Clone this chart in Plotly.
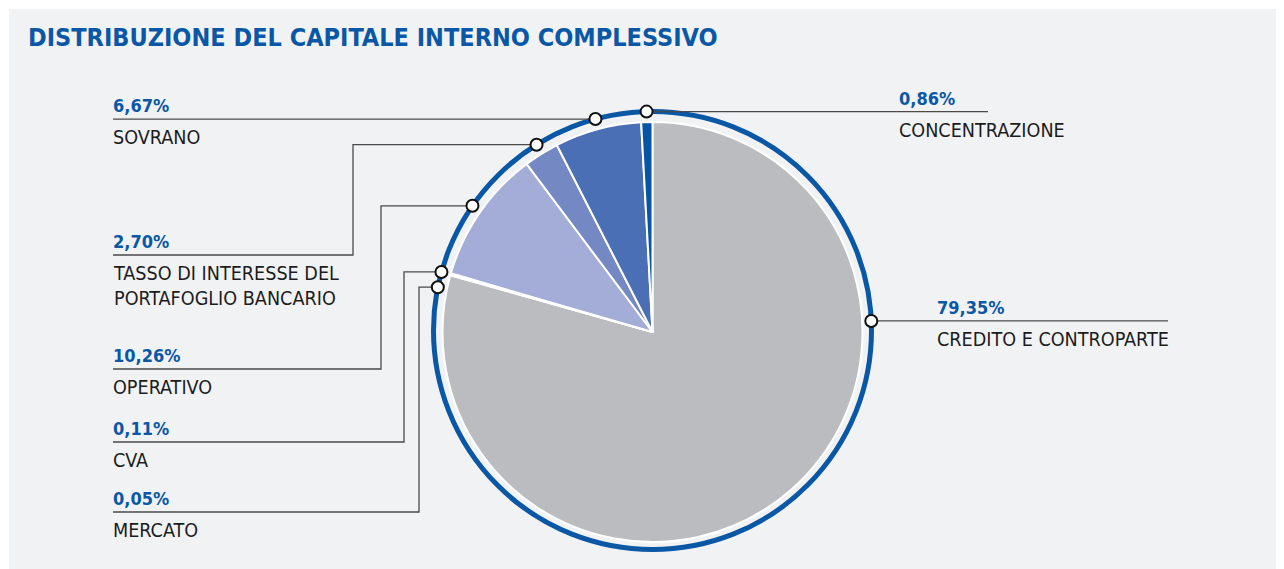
import numpy as np
import plotly.graph_objects as go

# ---------------- data ----------------
categories = [
    "CREDITO E CONTROPARTE",
    "MERCATO",
    "CVA",
    "OPERATIVO",
    "TASSO DI INTERESSE DEL<br>PORTAFOGLIO BANCARIO",
    "SOVRANO",
    "CONCENTRAZIONE",
]
values = [79.35, 0.05, 0.11, 10.26, 2.70, 6.67, 0.86]
title_text = "DISTRIBUZIONE DEL CAPITALE INTERNO COMPLESSIVO"

# ---------------- styles / layout ----------------
slice_colors = ["#bbbcc0", "#e3e6f3", "#cdd3ec", "#a3add8", "#7489c4", "#4a6fb5", "#0656a5"]
W, H = 1284, 569
OFF = 8  # page body margin: axis coordinates equal page pixels
CX, CY, R_PIE = 652.5, 332.0, 210.0
RING_CY, R_RING = 330.5, 219.0
BLUE = "#0a57a6"
TXT = "#1c1c1c"
FONT = "DejaVu Sans Condensed, DejaVu Sans, sans-serif"

# label layout: elbow x (None = straight), label line y (None = dot y), line end x, text x
label_layout = {
    "CREDITO E CONTROPARTE": dict(elbow=None, ly=None, end=1168, tx=937, angle=87.5),
    "MERCATO": dict(elbow=419, ly=512, end=113, tx=113, angle=281.4),
    "CVA": dict(elbow=404, ly=442, end=113, tx=113, angle=285.5),
    "OPERATIVO": dict(elbow=381, ly=369, end=113, tx=113, angle=None),
    "TASSO DI INTERESSE DEL<br>PORTAFOGLIO BANCARIO": dict(elbow=353, ly=255, end=113, tx=113, angle=None),
    "SOVRANO": dict(elbow=None, ly=None, end=113, tx=113, angle=None),
    "CONCENTRAZIONE": dict(elbow=None, ly=None, end=988, tx=899, angle=None),
}

vals = np.array(values, dtype=float)
cum = np.cumsum(vals) / vals.sum() * 360.0
starts = np.concatenate([[0.0], cum[:-1]])
mids = (starts + cum) / 2.0

fig = go.Figure()

shapes = [
    dict(type="rect", xref="x", yref="y", x0=9, x1=W + 20, y0=9, y1=H + 20,
         fillcolor="#f1f2f4", line=dict(width=0), layer="below"),
    dict(type="circle", xref="x", yref="y",
         x0=CX - R_RING, x1=CX + R_RING, y0=RING_CY - R_RING, y1=RING_CY + R_RING,
         line=dict(color="#0a57a6", width=5), fillcolor="rgba(0,0,0,0)", layer="below"),
]

annotations = [
    dict(x=26, y=37, xref="x", yref="y", text="<b>" + title_text + "</b>", showarrow=False,
         xanchor="left", yanchor="middle", font=dict(family=FONT, size=25, color=BLUE)),
]

dot_x, dot_y = [], []
for cat, v, mid in zip(categories, values, mids):
    L = label_layout[cat]
    ang = L["angle"] if L["angle"] is not None else mid
    a = np.deg2rad(ang)
    dx = CX + R_RING * np.sin(a)
    dy = RING_CY - R_RING * np.cos(a)
    dot_x.append(dx)
    dot_y.append(dy)
    ly = L["ly"] if L["ly"] is not None else dy
    if L["elbow"] is None:
        xs, ys = [dx, L["end"]], [dy, dy]
    else:
        xs, ys = [dx, L["elbow"], L["elbow"], L["end"]], [dy, dy, ly, ly]
    fig.add_trace(go.Scatter(x=xs, y=ys, mode="lines", line=dict(color="#4a4a4a", width=1.3),
                             hoverinfo="skip", showlegend=False))
    pct = f"{v:.2f}".replace(".", ",") + "%"
    annotations.append(dict(x=L["tx"] - 2, y=ly - 1, xref="x", yref="y", text="<b>" + pct + "</b>",
                            showarrow=False, xanchor="left", yanchor="bottom",
                            font=dict(family=FONT, size=18, color=BLUE)))
    annotations.append(dict(x=L["tx"] - 2, y=ly + 5, xref="x", yref="y", text=cat,
                            showarrow=False, xanchor="left", yanchor="top", align="left",
                            font=dict(family=FONT, size=19.6, color=TXT)))

fig.add_trace(go.Scatter(x=dot_x, y=dot_y, mode="markers",
                         marker=dict(size=12, color="white", line=dict(color="#111111", width=2)),
                         hoverinfo="skip", showlegend=False))

fig.add_trace(go.Pie(
    labels=[c.replace("<br>", " ") for c in categories], values=values, sort=False,
    direction="clockwise", rotation=0,
    marker=dict(colors=slice_colors, line=dict(color="white", width=2)),
    textinfo="none", hoverinfo="label+percent", showlegend=False,
    domain=dict(x=[(CX - OFF - R_PIE) / W, (CX - OFF + R_PIE) / W],
                y=[1 - (CY - OFF + R_PIE) / H, 1 - (CY - OFF - R_PIE) / H]),
))

fig.update_layout(
    width=W, height=H, margin=dict(l=0, r=0, t=0, b=0),
    paper_bgcolor="white", plot_bgcolor="rgba(0,0,0,0)",
    xaxis=dict(range=[OFF, W + OFF], visible=False, fixedrange=True, domain=[0, 1]),
    yaxis=dict(range=[H + OFF, OFF], visible=False, fixedrange=True, domain=[0, 1]),
    shapes=shapes, annotations=annotations, showlegend=False,
)

fig.write_html("out.html")
